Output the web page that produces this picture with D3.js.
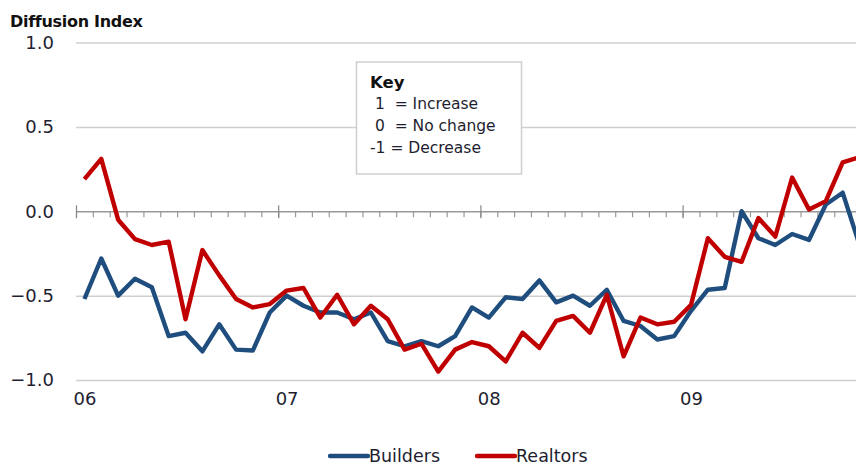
<!DOCTYPE html>
<html>
<head>
<meta charset="utf-8">
<script src="https://cdn.jsdelivr.net/npm/d3@7"></script>
<style>
  html, body { margin: 0; padding: 0; background: #fff; }
  svg { display: block; font-family: "DejaVu Sans", Verdana, sans-serif; }
</style>
</head>
<body>
<svg id="chart" width="856" height="466"></svg>
<script>
// ---- data (monthly, Jan 2006 – Nov 2009) ----
const yearLabels = ["06", "07", "08", "09"];
const seriesNames = ["Builders", "Realtors"];
const builders = [
  -0.52, -0.28, -0.50, -0.40, -0.45, -0.74, -0.72, -0.83, -0.67, -0.82, -0.825, -0.60,
  -0.50, -0.56, -0.60, -0.60, -0.64, -0.60, -0.77, -0.80, -0.77, -0.80, -0.74, -0.57,
  -0.63, -0.51, -0.52, -0.41, -0.54, -0.50, -0.56, -0.465, -0.65, -0.68, -0.76, -0.74,
  -0.59, -0.465, -0.455, 0.00, -0.16, -0.20, -0.135, -0.17, 0.04, 0.11, -0.20
];
const realtors = [
  0.19, 0.31, -0.05, -0.165, -0.20, -0.18, -0.64, -0.23, -0.38, -0.52, -0.57, -0.55,
  -0.47, -0.455, -0.63, -0.495, -0.67, -0.56, -0.64, -0.82, -0.785, -0.95, -0.82, -0.775,
  -0.80, -0.89, -0.72, -0.81, -0.65, -0.62, -0.72, -0.495, -0.86, -0.63, -0.67, -0.655,
  -0.555, -0.16, -0.27, -0.30, -0.04, -0.15, 0.20, 0.01, 0.06, 0.29, 0.32
];
const yTicks = [-1.0, -0.5, 0.0, 0.5, 1.0];
const keyLines = [" 1  = Increase", " 0  = No change", "-1 = Decrease"];
const colors = ["#1F4E7E", "#C00000"];

// ---- layout ----
const svg = d3.select("#chart");
const left = 76, monthW = 16.85;
const x = d3.scaleLinear().domain([0, 48]).range([left, left + 48 * monthW]);
const y = d3.scaleLinear().domain([-1, 1]).range([380, 42.5]);
const right = 856;

// gridlines
svg.append("g")
  .attr("transform", `translate(${left},0)`)
  .call(d3.axisLeft(y).tickValues(yTicks.filter(v => v !== 0)).tickSize(-(right - left)).tickFormat(""))
  .call(g => g.select(".domain").remove())
  .call(g => g.selectAll("line").attr("stroke", "#cfcfcf").attr("stroke-width", 1.5));

// y tick labels
svg.append("g")
  .attr("transform", `translate(${left - 19},0)`)
  .call(d3.axisLeft(y).tickValues(yTicks).tickSize(0).tickFormat(d3.format(".1f")))
  .call(g => g.select(".domain").remove())
  .call(g => g.selectAll("text").attr("font-size", 18).attr("fill", "#1e1e30")
    .attr("font-family", "DejaVu Sans, sans-serif"));

// zero axis with minor month ticks
const y0 = y(0);
svg.append("g")
  .attr("transform", `translate(0,${y0})`)
  .call(d3.axisBottom(x).tickValues(d3.range(0, 49)).tickSize(6).tickFormat("").tickSizeOuter(0))
  .call(g => g.select(".domain").attr("stroke", "#999").attr("stroke-width", 1.5))
  .call(g => g.selectAll(".tick line").attr("stroke", "#999").attr("stroke-width", 1.2));
// major year ticks
svg.append("g")
  .attr("transform", `translate(0,${y0 - 6})`)
  .call(d3.axisBottom(x).tickValues([0, 12, 24, 36, 48]).tickSize(13).tickFormat(""))
  .call(g => g.select(".domain").remove())
  .call(g => g.selectAll(".tick line").attr("stroke", "#888").attr("stroke-width", 1.2));

// year labels
svg.append("g")
  .attr("transform", `translate(0,418)`)
  .call(d3.axisBottom(x).tickValues(yearLabels.map((_, i) => i * 12 + 0.5)).tickSize(0)
    .tickFormat((d, i) => yearLabels[i]))
  .call(g => g.select(".domain").remove())
  .call(g => g.selectAll("text").attr("font-size", 18).attr("fill", "#1e1e30").attr("dy", "-0.9em")
    .attr("font-family", "DejaVu Sans, sans-serif"));

// title
svg.append("text").attr("x", 10).attr("y", 27)
  .attr("font-size", 16).attr("font-weight", "bold").attr("fill", "#111")
  .attr("letter-spacing", "-0.3")
  .text("Diffusion Index");

// key box
const kb = svg.append("g");
kb.append("rect").attr("x", 356.5).attr("y", 62).attr("width", 165).attr("height", 112)
  .attr("fill", "#fff").attr("stroke", "#cfcfcf").attr("stroke-width", 1.5);
kb.append("text").attr("x", 370).attr("y", 88).attr("font-size", 16.5).attr("font-weight", "bold")
  .attr("fill", "#111").text("Key");
keyLines.forEach((t, i) => {
  kb.append("text").attr("x", 370).attr("y", 109 + i * 22).attr("font-size", 15.5)
    .attr("fill", "#1e1e30").attr("xml:space", "preserve").style("white-space", "pre").text(t);
});

// lines
const line = d3.line().x((d, i) => x(i + 0.5)).y(d => y(d)).curve(d3.curveLinear);
[builders, realtors].forEach((s, k) => {
  svg.append("path").datum(s)
    .attr("fill", "none").attr("stroke", colors[k]).attr("stroke-width", 4.4)
    .attr("stroke-linejoin", "round").attr("d", line);
});

// legend
const leg = [{ x: 330 }, { x: 477 }];
seriesNames.forEach((n, k) => {
  const g = svg.append("g").attr("transform", `translate(${leg[k].x},456)`);
  g.append("line").attr("x1", 0).attr("x2", 38).attr("y1", 0).attr("y2", 0)
    .attr("stroke", colors[k]).attr("stroke-width", 4.4).attr("stroke-linecap", "round");
  g.append("text").attr("x", 39).attr("y", 5.5).attr("font-size", 17.5).attr("fill", "#1e1e30").text(n);
});
</script>
</body>
</html>
